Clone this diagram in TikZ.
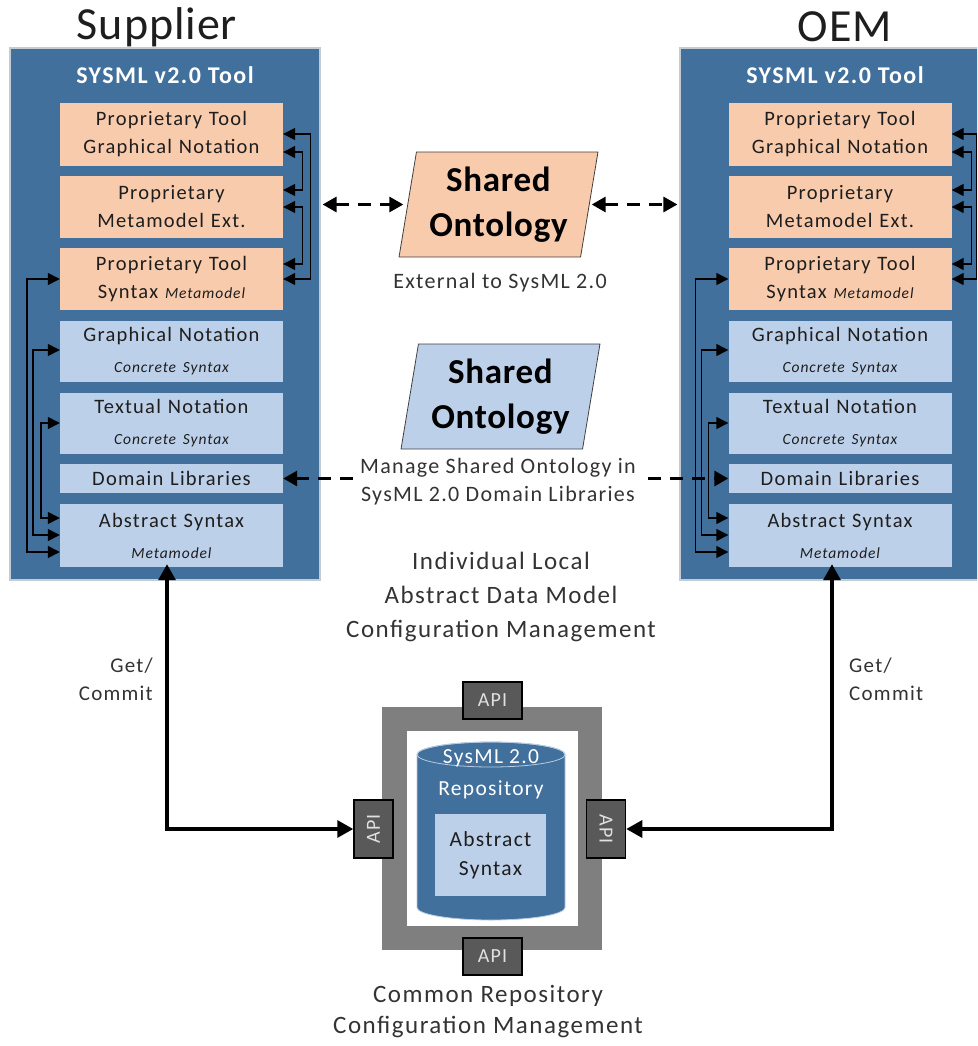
\documentclass[tikz,border=0pt]{standalone}
\usepackage{fontspec}
\setmainfont{Carlito}[LetterSpace=6]
\newfontfamily\titlefont{Carlito}[LetterSpace=2]
\newfontfamily\ontofont{Carlito}[LetterSpace=2]
\usetikzlibrary{arrows.meta,shapes.geometric,calc}

\definecolor{panelblue}{HTML}{41709C}
\definecolor{panelrim}{HTML}{C3CBD3}
\definecolor{boxblue}{HTML}{BDD0E9}
\definecolor{boxorange}{HTML}{F8CBAD}
\definecolor{apigray}{HTML}{595959}
\definecolor{framegray}{HTML}{7F7F7F}
\definecolor{inktext}{HTML}{1E1E1E}
\definecolor{notetext}{HTML}{333333}
\definecolor{cylline}{HTML}{B8CBE2}

\newcommand\subtxt[1]{{\fontsize{15.5}{18}\selectfont\itshape #1}}

\tikzset{
  panel/.style={fill=panelblue, draw=panelrim, line width=1.2pt,
    minimum width=310pt, minimum height=532pt, inner sep=0pt},
  toolhead/.style={text=white, font=\bfseries\fontsize{24}{28}\selectfont, inner sep=0pt},
  sidehead/.style={text=inktext, font=\titlefont\fontsize{46}{50}\selectfont, inner sep=0pt},
  layer/.style={minimum width=223pt, text width=223pt, align=center, inner sep=0pt,
    text=inktext, font=\fontsize{20.5}{28}\selectfont},
  orlayer/.style={layer, fill=boxorange},
  bllayer/.style={layer, fill=boxblue},
  onto/.style={trapezium, trapezium left angle=79, trapezium right angle=101,
    trapezium stretches=true, minimum width=199pt, minimum height=105pt,
    draw=black!75, line width=0.8pt, align=center, inner sep=0pt,
    font=\ontofont\bfseries\fontsize{35}{45}\selectfont, text=black},
  note/.style={align=center, inner sep=0pt, text=notetext},
  api/.style={fill=apigray, draw=black, line width=1.5pt, inner sep=0pt,
    text=white!88!black, font=\fontsize{20}{24}\selectfont},
  conn/.style={draw=black, line width=1.4pt, <->,
    >={Triangle[length=12pt,width=12pt]}},
  bigarrow/.style={draw=black, line width=3.3pt, <->,
    >={Triangle[length=16pt,width=17pt]}},
  dasharrow/.style={draw=black, line width=3pt, <->, dash pattern=on 13pt off 9pt,
    >={Triangle[length=14pt,width=15pt]}},
}

\begin{document}
\begin{tikzpicture}[x=1pt, y=-1pt]
\useasboundingbox (0,0) rectangle (977,1046);
\clip (0,0) rectangle (977,1046);

% ---------- tool panels ----------
\node[panel] (supP) at (165,314) {};
\node[panel] (oemP) at (835,314) {};
\node[sidehead] (supName) at (157,27) {Supplier};
\node[sidehead] (oemName) at (845,27) {OEM};
\node[toolhead] (supTool) at (165,75) {SYSML v2.0 Tool};
\node[toolhead] (oemTool) at (835,75) {SYSML v2.0 Tool};

% layers of the supplier tool
\node[orlayer, minimum height=63pt] (ptgnL) at (171.5,134.5) {Proprietary Tool\\Graphical Notation};
\node[orlayer, minimum height=62pt] (pmeL)  at (171.5,207) {Proprietary\\Metamodel Ext.};
\node[orlayer, minimum height=62pt] (ptsL)  at (171.5,279) {Proprietary Tool\\Syntax \subtxt{Metamodel}};
\node[bllayer, minimum height=61pt] (gnL)   at (171.5,351.5) {Graphical Notation\\[3pt]\subtxt{Concrete Syntax}};
\node[bllayer, minimum height=61pt] (tnL)   at (171.5,423.5) {Textual Notation\\[3pt]\subtxt{Concrete Syntax}};
\node[bllayer, minimum height=29pt] (dlL)   at (171.5,478.5) {Domain Libraries};
\node[bllayer, minimum height=63pt] (asL)   at (171.5,535.5) {Abstract Syntax\\[3pt]\subtxt{Metamodel}};

% layers of the OEM tool
\node[orlayer, minimum height=63pt] (ptgnR) at (840,134.5) {Proprietary Tool\\Graphical Notation};
\node[orlayer, minimum height=62pt] (pmeR)  at (840,207) {Proprietary\\Metamodel Ext.};
\node[orlayer, minimum height=62pt] (ptsR)  at (840,279) {Proprietary Tool\\Syntax \subtxt{Metamodel}};
\node[bllayer, minimum height=61pt] (gnR)   at (840,351.5) {Graphical Notation\\[3pt]\subtxt{Concrete Syntax}};
\node[bllayer, minimum height=61pt] (tnR)   at (840,423.5) {Textual Notation\\[3pt]\subtxt{Concrete Syntax}};
\node[bllayer, minimum height=29pt] (dlR)   at (840,478.5) {Domain Libraries};
\node[bllayer, minimum height=63pt] (asR)   at (840,535.5) {Abstract Syntax\\[3pt]\subtxt{Metamodel}};

% internal links, supplier tool
\draw[conn] (ptgnL.east |- 0,134) -- ++(27,0) |- (ptsL.east |- 0,279);
\draw[conn] (ptgnL.east |- 0,152) -- ++(19,0) |- (pmeL.east |- 0,190);
\draw[conn] (pmeL.east |- 0,207) -- ++(19,0) |- (ptsL.east |- 0,264);
\draw[conn] (ptsL.west |- 0,279) -- ++(-33,0) |- (asL.west |- 0,552);
\draw[conn] (gnL.west |- 0,350) -- ++(-27,0) |- (asL.west |- 0,535);
\draw[conn] (tnL.west |- 0,423) -- ++(-19,0) |- (asL.west |- 0,518);

% internal links, OEM tool
\draw[conn] (ptgnR.east |- 0,134) -- ++(25,0) |- (ptsR.east |- 0,279);
\draw[conn] (ptgnR.east |- 0,152) -- ++(20,0) |- (pmeR.east |- 0,190);
\draw[conn] (pmeR.east |- 0,207) -- ++(20,0) |- (ptsR.east |- 0,264);
\draw[conn] (ptsR.west |- 0,279) -- ++(-33,0) |- (asR.west |- 0,552);
\draw[conn] (gnR.west |- 0,350) -- ++(-27,0) |- (asR.west |- 0,535);
\draw[conn] (tnR.west |- 0,423) -- ++(-20,0) |- (asR.west |- 0,518);

% ---------- shared ontology ----------
\node[onto, fill=boxorange] (ontoA) at (498.5,204.5) {Shared\\Ontology};
\node[onto, fill=boxblue] (ontoB) at (500.5,396.5) {Shared\\Ontology};
\node[note, font=\fontsize{22}{24}\selectfont] (extNote) at (500,283) {External to SysML 2.0};

\draw[dasharrow, shorten <=2pt, shorten >=4pt] (supP.east |- ontoA.left side) -- (ontoA.left side);
\draw[dasharrow, shorten <=2pt, shorten >=2pt] (ontoA.right side) -- (oemP.west |- ontoA.right side);

\draw[dasharrow] (dlL.east) -- (dlR.west);
\node[note, fill=white, inner xsep=6pt, inner ysep=3pt, font=\fontsize{22}{28}\selectfont]
  (manage) at (498,482) {Manage Shared Ontology in\\SysML 2.0 Domain Libraries};

\node[note, font=\fontsize{25}{34}\selectfont] (localCM) at (501,597)
  {Individual Local\\Abstract Data Model\\Configuration Management};

% ---------- common repository ----------
\node[fill=framegray, minimum width=220pt, minimum height=243pt, inner sep=0pt] (frame) at (492,828.5) {};
\node[fill=white, minimum width=171pt, minimum height=195pt, inner sep=0pt] (frameIn) at (492.5,828.5) {};
\filldraw[fill=panelblue, draw=cylline, line width=0.8pt]
  (417,754.5) -- (417,907.5) arc[start angle=180, end angle=0, x radius=74, y radius=12.5]
  -- (565,754.5) arc[start angle=0, end angle=-180, x radius=74, y radius=12.5] -- cycle;
\draw[cylline, line width=0.8pt] (491,754.5) ellipse [x radius=74, y radius=12.5];
\node[note, text=white, font=\fontsize{21.5}{32}\selectfont] (cylLabel) at (491,774) {SysML 2.0\\Repository};
\node[fill=boxblue, minimum width=111pt, minimum height=82pt, inner sep=0pt, align=center,
  text=inktext, font=\fontsize{21.5}{29}\selectfont] (repoAS) at (490.5,855) {Abstract\\Syntax};

\node[api, minimum width=59pt, minimum height=37pt] (apiT) at (492.5,700.5) {API};
\node[api, minimum width=59pt, minimum height=37pt] (apiB) at (492.5,956.5) {API};
\node[api, minimum width=39pt, minimum height=58pt] (apiL) at (373.5,829) {\rotatebox{90}{API}};
\node[api, minimum width=39pt, minimum height=58pt] (apiR) at (606,829) {\rotatebox{-90}{API}};

\node[note, font=\fontsize{25}{31}\selectfont] (repoCM) at (488,1012)
  {Common Repository\\Configuration Management};

% ---------- get / commit ----------
\draw[bigarrow, shorten <=-3pt] (asL.south -| 167,0) |- (apiL.west);
\draw[bigarrow, shorten <=-3pt] (asR.south -| 832,0) |- (apiR.east);
\node[note, align=right, anchor=east, font=\fontsize{21}{28}\selectfont] (gcL) at (153,679) {Get/\\Commit};
\node[note, align=left, anchor=west, font=\fontsize{21}{28}\selectfont] (gcR) at (849,679) {Get/\\Commit};
\end{tikzpicture}
\end{document}
